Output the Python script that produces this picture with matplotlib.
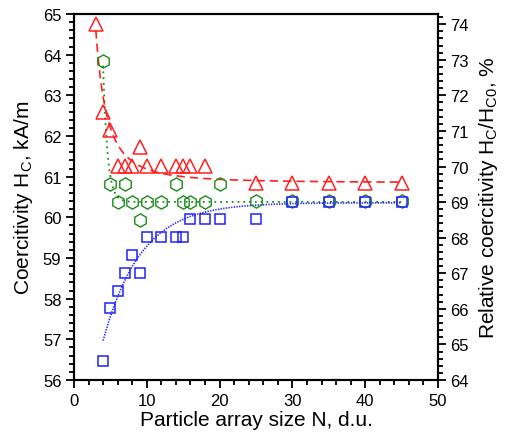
import numpy as np
import matplotlib
matplotlib.use("Agg")
import matplotlib.pyplot as plt
from matplotlib.ticker import MultipleLocator, AutoMinorLocator

plt.rcParams['font.family'] = ['Liberation Sans', 'DejaVu Sans']
plt.rcParams['mathtext.default'] = 'regular'

# measured coercivity, kA/m
red_N = [3, 4, 5, 6, 7, 8, 9, 10, 12, 14, 15, 16, 18, 25, 30, 35, 40, 45]
red_H = [64.76, 62.58, 62.14, 61.27, 61.27, 61.27, 61.72, 61.27, 61.27, 61.27,
         61.27, 61.27, 61.27, 60.85, 60.85, 60.85, 60.85, 60.85]

green_N = [4, 5, 6, 7, 8, 9, 10, 12, 14, 15, 16, 18, 20, 25, 30, 35, 40, 45]
green_H = [63.84, 60.81, 60.38, 60.81, 60.38, 59.94, 60.38, 60.38, 60.81, 60.38,
           60.38, 60.38, 60.82, 60.39, 60.39, 60.39, 60.39, 60.39]

blue_N = [4, 5, 6, 7, 8, 9, 10, 12, 14, 15, 16, 18, 20, 25, 30, 35, 40, 45]
blue_H = [56.47, 57.77, 58.20, 58.64, 59.08, 58.64, 59.51, 59.51, 59.51, 59.51,
          59.95, 59.95, 59.95, 59.95, 60.38, 60.38, 60.38, 60.38]

# reference coercivity for the relative scale
H_C0 = 87.5

# fit parameters
red_fit = dict(h_inf=60.85, c=33.75, p=2.0, n0=3)          # h_inf + c / N^p
green_fit = dict(h_inf=60.38, a=3.35, tau=0.6, n0=4)       # h_inf + a*exp(-(N-n0)/tau)
blue_fit = dict(h_inf=60.36, a=3.39, tau=5.2, n0=4)        # h_inf - a*exp(-(N-n0)/tau)
N_END = 45

fig = plt.figure(figsize=(5.05, 4.35), dpi=100)
ax = fig.add_axes([0.1465, 0.1241, 0.7208, 0.8414])

n = np.linspace(red_fit['n0'], N_END, 400)
ax.plot(n, red_fit['h_inf'] + red_fit['c'] / n ** red_fit['p'],
        color='#ff2020', lw=1.2, dashes=(5, 3))
n = np.linspace(green_fit['n0'], N_END, 400)
ax.plot(n, green_fit['h_inf'] + green_fit['a'] * np.exp(-(n - green_fit['n0']) / green_fit['tau']),
        color='#1a8c1a', lw=1.3, dashes=(1, 2.2))
n = np.linspace(blue_fit['n0'], N_END, 400)
ax.plot(n, blue_fit['h_inf'] - blue_fit['a'] * np.exp(-(n - blue_fit['n0']) / blue_fit['tau']),
        color='#2020ff', lw=1.2, dashes=(0.8, 0.8))

ax.plot(red_N, red_H, ls='none', marker='^', ms=10.5, mfc='none',
        mec='#ff2020', mew=1.1)
ax.plot(green_N, green_H, ls='none', marker='h', ms=9.5, mfc='none',
        mec='#1a8c1a', mew=1.0)
ax.plot(blue_N, blue_H, ls='none', marker='s', ms=7.8, mfc='none',
        mec='#2020ff', mew=1.1)

ax.set_xlim(0, 50)
ax.set_ylim(56, 65)
ax.xaxis.set_major_locator(MultipleLocator(10))
ax.xaxis.set_minor_locator(MultipleLocator(2))
ax.yaxis.set_major_locator(MultipleLocator(1))
ax.yaxis.set_minor_locator(AutoMinorLocator(5))
ax.tick_params(which='both', direction='out', width=1.3, labelsize=12,
               top=False, right=False, pad=3)
ax.tick_params(which='major', length=6)
ax.tick_params(which='minor', length=3.5)
for s in ax.spines.values():
    s.set_linewidth(1.5)

ax.set_xlabel('Particle array size N, d.u.', fontsize=15, labelpad=2)
ax.set_ylabel('Coercitivity H$_C$, kA/m', fontsize=15, labelpad=6)

ax2 = ax.twinx()
ax2.set_ylim(56 / H_C0 * 100, 65 / H_C0 * 100)
ax2.yaxis.set_major_locator(MultipleLocator(1))
ax2.yaxis.set_minor_locator(AutoMinorLocator(5))
ax2.tick_params(which='both', direction='out', width=1.3, labelsize=12, pad=3)
ax2.tick_params(which='major', length=6)
ax2.tick_params(which='minor', length=3.5)
for s in ax2.spines.values():
    s.set_linewidth(1.5)
ax2.set_ylabel('Relative coercitivity H$_C$/H$_{C0}$, %', fontsize=15, labelpad=6)

fig.savefig('out.png', dpi=100)
